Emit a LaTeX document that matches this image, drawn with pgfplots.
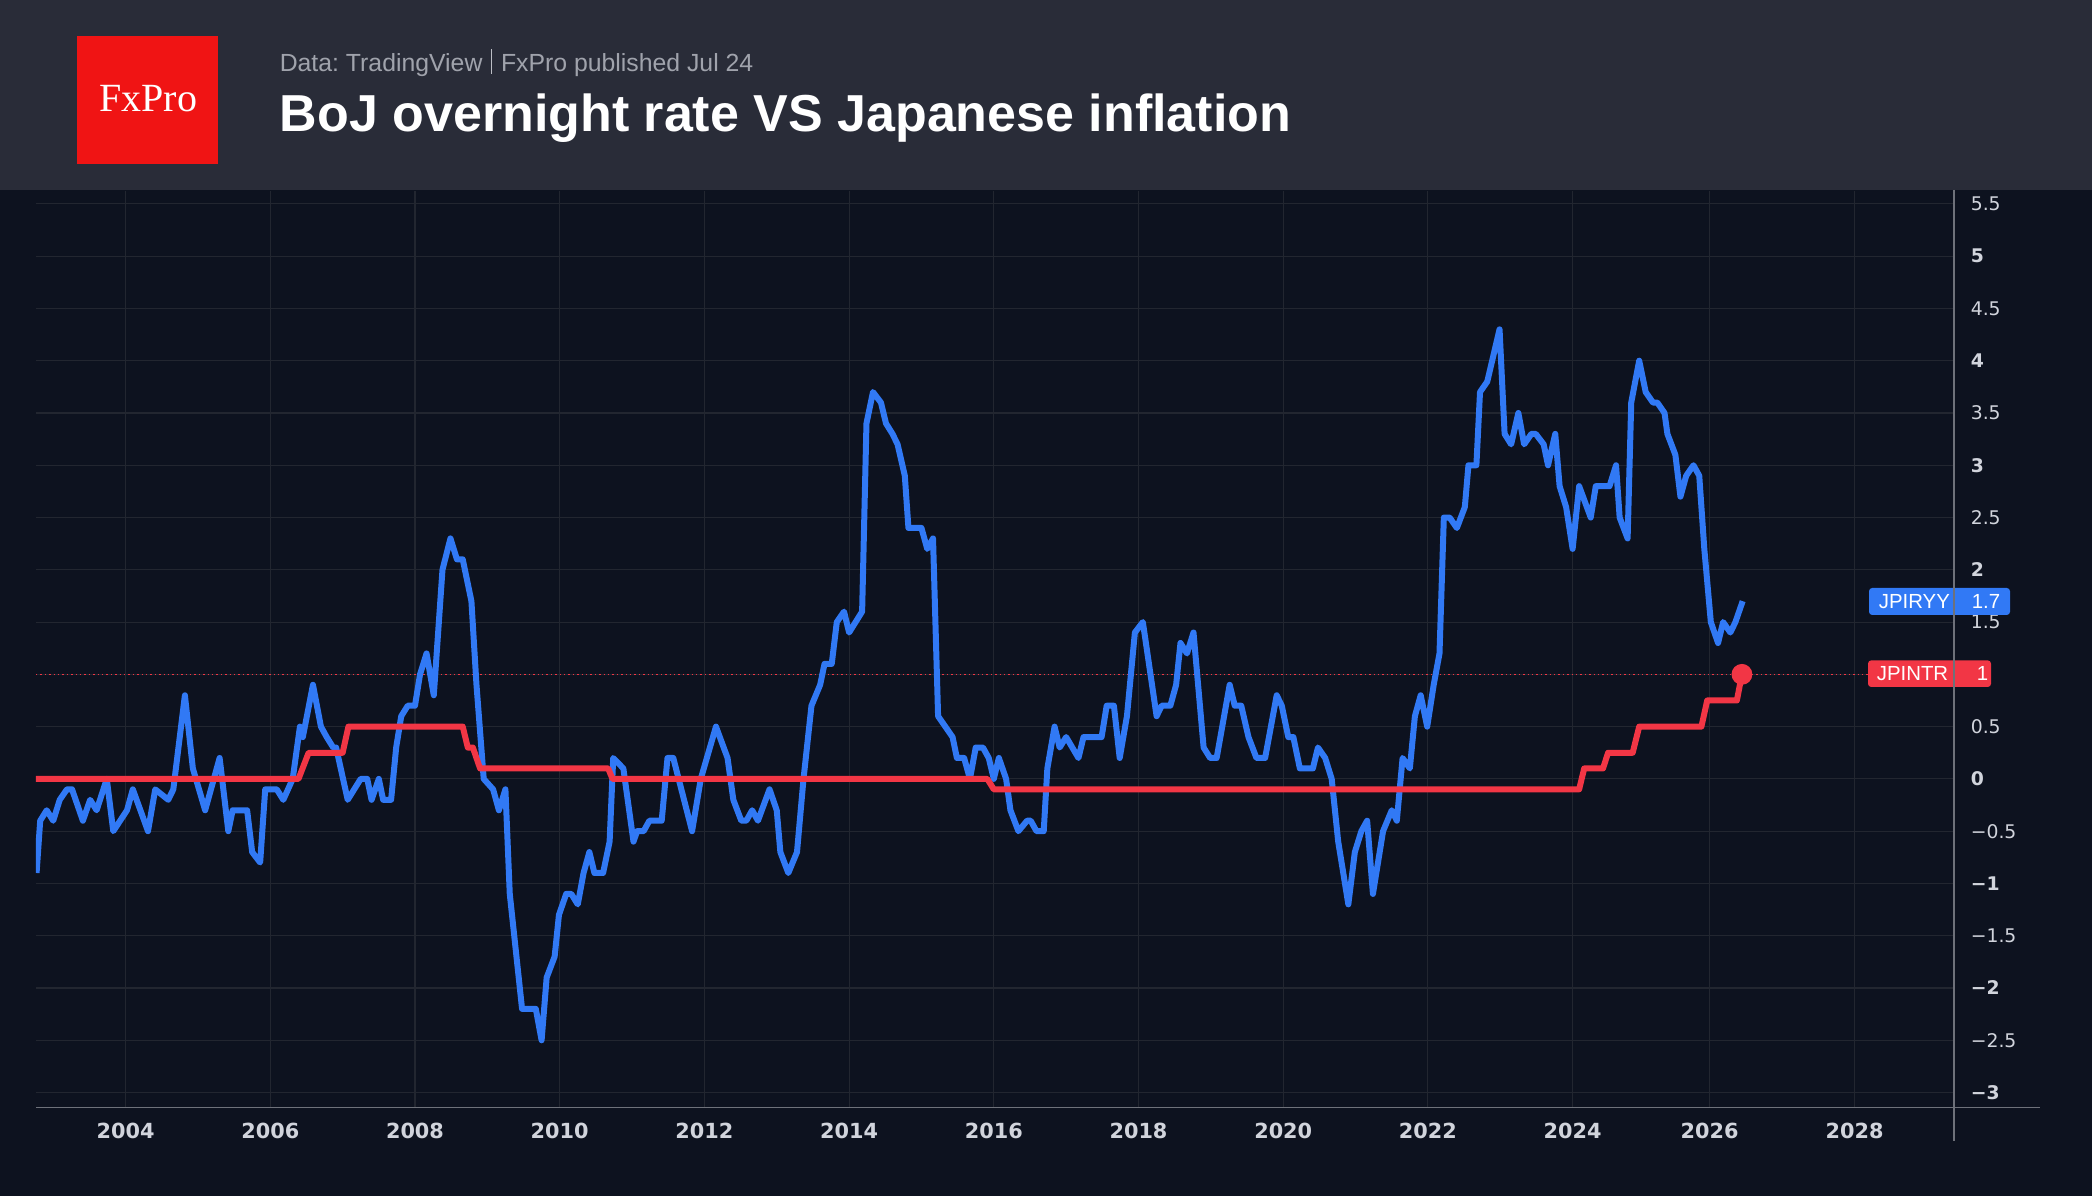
\documentclass[border=0pt]{standalone}
\usepackage{pgfplots}
\pgfplotsset{compat=1.18}
\usepackage{fontspec}
\setmainfont{Liberation Sans}
\newfontfamily\dejavu{DejaVu Sans}
\newfontfamily\serifx{Liberation Serif}
\frenchspacing
\definecolor{hdr}{RGB}{41,44,56}
\definecolor{bg}{RGB}{13,18,31}
\definecolor{gridc}{RGB}{34,38,48}
\definecolor{axc}{RGB}{110,113,122}
\definecolor{lblc}{RGB}{209,212,220}
\definecolor{subc}{RGB}{160,163,172}
\definecolor{blueL}{RGB}{49,121,245}
\definecolor{redL}{RGB}{242,54,69}
\definecolor{logo}{RGB}{240,20,20}
\begin{document}
\begin{tikzpicture}
\fill[bg] (0,0) rectangle (523pt,-299pt);
\fill[hdr] (0,0) rectangle (523pt,-47.5pt);
\fill[logo] (19.25pt,-9pt) rectangle (54.5pt,-41pt);
\node[anchor=base, text=white, font=\serifx\fontsize{10}{12}\selectfont, inner sep=0pt] at (37.1pt,-27.9pt) {FxPro};
\node[anchor=base west, inner sep=0pt, text=subc, font=\fontsize{6.2}{7}\selectfont] at (69.75pt,-18pt) {Data:\ TradingView\hspace{2.2pt}\textcolor{subc!70}{\rule[-0.15ex]{0.25pt}{1.9ex}}\hspace{2.2pt}FxPro published Jul 24};
\node[anchor=base west, inner sep=0pt, text=white, font=\bfseries\fontsize{13}{15}\selectfont] at (69.75pt,-33pt) {BoJ overnight rate VS Japanese inflation};

\begin{axis}[
  at={(9pt,-276.9pt)}, anchor=south west,
  scale only axis, width=479.5pt, height=229.25pt,
  xmin=2002.762, xmax=2029.271, ymin=-3.144, ymax=5.627,
  axis line style={draw=none},
  grid=major, major grid style={gridc, line width=0.28pt},
  major tick length=0pt,
  xtick={2004,2006,2008,2010,2012,2014,2016,2018,2020,2022,2024,2025.894,2027.898},
  xticklabels={2004,2006,2008,2010,2012,2014,2016,2018,2020,2022,2024,2026,2028},
  xticklabel style={font=\dejavu\bfseries\fontsize{5.2}{6}\selectfont, text=lblc, anchor=center, yshift=-5.8pt},
  ytick={-3,-2.5,-2,-1.5,-1,-0.5,0,0.5,1,1.5,2,2.5,3,3.5,4,4.5,5,5.5},
  yticklabels={\textbf{−3},−2.5,\textbf{−2},−1.5,\textbf{−1},−0.5,\textbf{0},0.5,{},1.5,\textbf{2},2.5,\textbf{3},3.5,\textbf{4},4.5,\textbf{5},5.5},
  yticklabel pos=right,
  yticklabel style={font=\dejavu\fontsize{4.7}{5}\selectfont, text=lblc, anchor=west, inner sep=0pt, xshift=4pt},
]
\addplot[redL, line width=0.35pt, dash pattern=on 0.35pt off 0.75pt] coordinates {(2002.762,1) (2029.271,1)};
\addplot[blueL, line width=1.5pt, line join=round] coordinates {
(2002.77,-0.9) (2002.82,-0.4) (2002.91,-0.3) (2003.00,-0.4) (2003.09,-0.2) (2003.19,-0.1) (2003.26,-0.1)
(2003.41,-0.4) (2003.51,-0.2) (2003.60,-0.3) (2003.74,0.0) (2003.83,-0.5) (2004.02,-0.3) (2004.10,-0.1)
(2004.31,-0.5) (2004.41,-0.1) (2004.59,-0.2) (2004.66,-0.1) (2004.82,0.8) (2004.93,0.1) (2005.10,-0.3)
(2005.30,0.2) (2005.42,-0.5) (2005.48,-0.3) (2005.68,-0.3) (2005.75,-0.7) (2005.86,-0.8) (2005.93,-0.1)
(2006.09,-0.1) (2006.18,-0.2) (2006.31,0.0) (2006.41,0.5) (2006.45,0.4) (2006.59,0.9) (2006.70,0.5)
(2006.78,0.4) (2006.87,0.3) (2006.91,0.3)
(2007.07,-0.2) (2007.25,0.0) (2007.34,0.0) (2007.40,-0.2) (2007.50,0.0) (2007.56,-0.2) (2007.67,-0.2)
(2007.74,0.3) (2007.81,0.6) (2007.90,0.7) (2008.00,0.7) (2008.07,1.0) (2008.16,1.2) (2008.26,0.8)
(2008.38,2.0) (2008.49,2.3) (2008.58,2.1) (2008.66,2.1) (2008.78,1.7) (2008.85,0.9) (2008.95,0.0)
(2009.08,-0.1) (2009.16,-0.3) (2009.25,-0.1) (2009.31,-1.1) (2009.48,-2.2) (2009.67,-2.2) (2009.75,-2.5)
(2009.82,-1.9) (2009.93,-1.7) (2009.99,-1.3) (2010.09,-1.1) (2010.16,-1.1) (2010.25,-1.2) (2010.33,-0.9)
(2010.41,-0.7) (2010.48,-0.9) (2010.60,-0.9) (2010.69,-0.6) (2010.74,0.2) (2010.88,0.1) (2011.02,-0.6)
(2011.07,-0.5) (2011.16,-0.5) (2011.24,-0.4) (2011.41,-0.4) (2011.49,0.2) (2011.57,0.2) (2011.83,-0.5)
(2011.95,0.0) (2012.16,0.5) (2012.32,0.2) (2012.40,-0.2) (2012.51,-0.4) (2012.58,-0.4) (2012.66,-0.3)
(2012.74,-0.4) (2012.90,-0.1) (2013.00,-0.3) (2013.05,-0.7) (2013.16,-0.9) (2013.28,-0.7) (2013.37,0.0)
(2013.48,0.7) (2013.60,0.9) (2013.66,1.1) (2013.76,1.1) (2013.83,1.5) (2013.93,1.6) (2014.00,1.4)
(2014.09,1.5) (2014.18,1.6) (2014.24,3.4) (2014.33,3.7) (2014.44,3.6) (2014.51,3.4) (2014.60,3.3)
(2014.67,3.2) (2014.77,2.9) (2014.82,2.4) (2015.00,2.4) (2015.08,2.2) (2015.16,2.3) (2015.23,0.6)
(2015.33,0.5) (2015.43,0.4) (2015.49,0.2) (2015.59,0.2) (2015.67,0.0) (2015.75,0.3) (2015.85,0.3)
(2015.93,0.2) (2016.00,0.0) (2016.07,0.2) (2016.17,0.0) (2016.23,-0.3) (2016.34,-0.5) (2016.46,-0.4)
(2016.51,-0.4) (2016.59,-0.5) (2016.69,-0.5) (2016.74,0.1) (2016.84,0.5) (2016.91,0.3) (2017.00,0.4)
(2017.17,0.2) (2017.24,0.4) (2017.49,0.4) (2017.56,0.7) (2017.66,0.7) (2017.74,0.2) (2017.84,0.6)
(2017.95,1.4) (2018.06,1.5) (2018.25,0.6) (2018.32,0.7) (2018.44,0.7) (2018.52,0.9) (2018.58,1.3)
(2018.67,1.2) (2018.76,1.4) (2018.90,0.3) (2018.99,0.2) (2019.08,0.2) (2019.26,0.9) (2019.33,0.7)
(2019.42,0.7) (2019.52,0.4) (2019.63,0.2) (2019.75,0.2) (2019.91,0.8) (2019.98,0.7) (2020.07,0.4)
(2020.14,0.4) (2020.23,0.1) (2020.41,0.1) (2020.48,0.3) (2020.58,0.2) (2020.67,0.0) (2020.76,-0.6)
(2020.90,-1.2) (2020.99,-0.7) (2021.08,-0.5) (2021.16,-0.4) (2021.24,-1.1) (2021.31,-0.8) (2021.38,-0.5)
(2021.50,-0.3) (2021.57,-0.4) (2021.65,0.2) (2021.75,0.1) (2021.82,0.6) (2021.90,0.8) (2021.99,0.5)
(2022.08,0.9) (2022.16,1.2) (2022.22,2.5) (2022.30,2.5) (2022.40,2.4) (2022.51,2.6) (2022.56,3.0)
(2022.67,3.0) (2022.72,3.7) (2022.82,3.8) (2022.99,4.3) (2023.06,3.3) (2023.15,3.2) (2023.25,3.5)
(2023.33,3.2) (2023.43,3.3) (2023.49,3.3) (2023.60,3.2) (2023.66,3.0) (2023.76,3.3) (2023.82,2.8)
(2023.91,2.6) (2024.00,2.2) (2024.09,2.8) (2024.25,2.5) (2024.32,2.8) (2024.51,2.8) (2024.60,3.0)
(2024.65,2.5) (2024.76,2.3) (2024.81,3.6) (2024.92,4.0) (2025.01,3.7) (2025.11,3.6) (2025.17,3.6)
(2025.27,3.5) (2025.31,3.3) (2025.42,3.1) (2025.49,2.7) (2025.57,2.9) (2025.67,3.0) (2025.75,2.9)
(2025.82,2.2) (2025.91,1.5) (2026.01,1.3) (2026.08,1.5) (2026.18,1.4) (2026.25,1.5) (2026.35,1.7)
};
\addplot[redL, line width=1.5pt, line join=round] coordinates {
(2002.762,0) (2006.39,0) (2006.53,0.25) (2007.00,0.25) (2007.08,0.5) (2008.66,0.5) (2008.73,0.3)
(2008.80,0.3) (2008.90,0.1) (2010.67,0.1) (2010.73,0) (2015.91,0) (2016.00,-0.1) (2024.09,-0.1)
(2024.16,0.1) (2024.42,0.1) (2024.49,0.25) (2024.83,0.25) (2024.92,0.5) (2025.78,0.5) (2025.86,0.75)
(2026.27,0.75) (2026.34,1.0)
};
\addplot[redL, only marks, mark=*, mark size=2.4pt] coordinates {(2026.34,1)};
\end{axis}

\fill[blueL, rounded corners=0.8pt] (467.25pt,-147pt) rectangle (502.5pt,-153.75pt);
\node[anchor=west, text=white, inner sep=0pt, font=\fontsize{5.1}{6}\selectfont] at (469.5pt,-150.4pt) {JPIRYY};
\node[anchor=west, text=white, inner sep=0pt, font=\fontsize{5.1}{6}\selectfont] at (492.75pt,-150.4pt) {1.7};
\fill[redL, rounded corners=0.8pt] (467pt,-165.1pt) rectangle (497.75pt,-171.75pt);
\node[anchor=west, text=white, inner sep=0pt, font=\fontsize{5.1}{6}\selectfont] at (469pt,-168.4pt) {JPINTR};
\node[anchor=west, text=white, inner sep=0pt, font=\fontsize{5.1}{6}\selectfont] at (494pt,-168.4pt) {1};
\draw[axc, line width=0.35pt] (488.5pt,-47.5pt) -- (488.5pt,-285.25pt);
\draw[axc, line width=0.35pt] (9pt,-276.9pt) -- (510pt,-276.9pt);
\pgfresetboundingbox
\useasboundingbox (0,0) rectangle (523pt,-299pt);
\end{tikzpicture}
\end{document}
